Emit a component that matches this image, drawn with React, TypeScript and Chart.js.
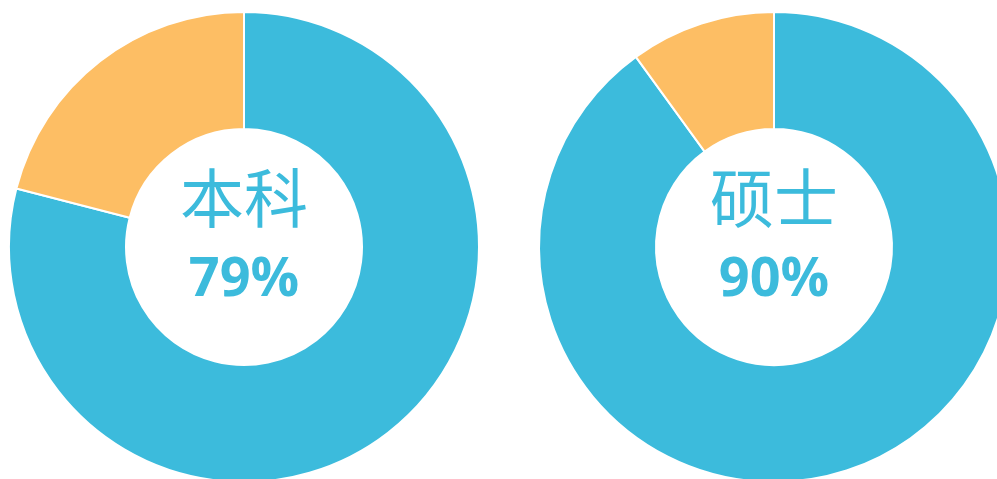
import React, { useEffect, useRef } from "react";
import { Chart, registerables } from "chart.js";

Chart.register(...registerables);

const categories = ["达标", "未达标"];
const labels = ["本科", "硕士"];
const mainValues = [79, 90];
const restValues = [21, 10];
const centerX = [244, 774];

const BLUE = "#3cbbdc";
const ORANGE = "#fdbe64";

function Donut({ idx }: { idx: number }) {
  const ref = useRef<HTMLCanvasElement>(null);
  useEffect(() => {
    if (!ref.current) return;
    const title = labels[idx];
    const pct = mainValues[idx] + "%";
    const chart = new Chart(ref.current, {
      type: "doughnut",
      data: {
        labels: categories,
        datasets: [
          {
            data: [mainValues[idx], restValues[idx]],
            backgroundColor: [BLUE, ORANGE],
            borderColor: "#ffffff",
            borderWidth: 2,
          },
        ],
      },
      options: {
        responsive: false,
        animation: false,
        radius: 235,
        cutout: 120,
        layout: { padding: 0 },
        plugins: { legend: { display: false }, tooltip: { enabled: false } },
      },
      plugins: [
        {
          id: "centerText",
          afterDraw(c: any) {
            const meta = c.getDatasetMeta(0);
            const arc = meta.data[0];
            const x = arc.x;
            const y = arc.y;
            const ctx = c.ctx;
            ctx.save();
            ctx.fillStyle = BLUE;
            ctx.textAlign = "center";
            ctx.textBaseline = "middle";
            ctx.font = '400 64px "Noto Sans CJK SC"';
            ctx.fillText(title, x, y - 49);
            ctx.font = 'bold 54px "Open Sans"';
            ctx.fillText(pct, x, y + 34);
            ctx.restore();
          },
        },
      ],
    });
    return () => chart.destroy();
  }, [idx]);
  return (
    <canvas
      ref={ref}
      width={480}
      height={480}
      style={{
        position: "absolute",
        left: centerX[idx] - 240,
        top: 7,
        width: 480,
        height: 480,
      }}
    />
  );
}

export default function App() {
  return (
    <div
      style={{
        position: "fixed",
        left: 0,
        top: 0,
        width: 997,
        height: 479,
        overflow: "hidden",
        background: "#ffffff",
      }}
    >
      <Donut idx={0} />
      <Donut idx={1} />
    </div>
  );
}
